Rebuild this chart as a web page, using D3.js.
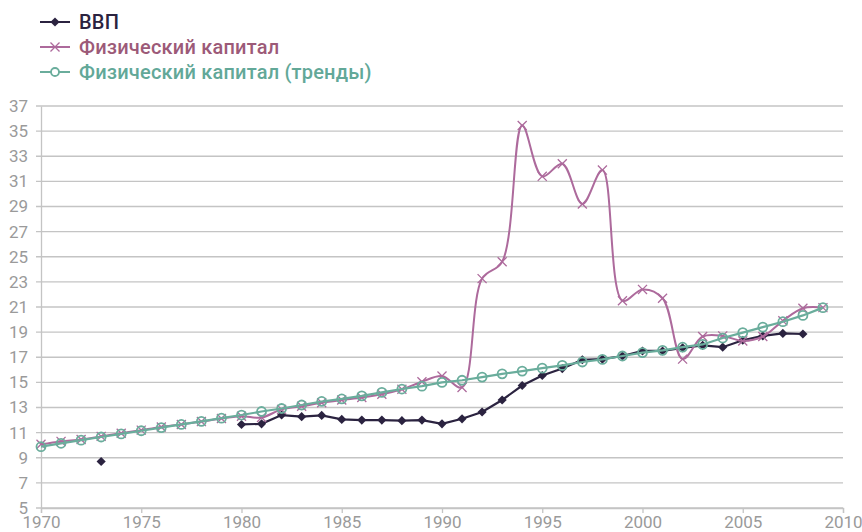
<!DOCTYPE html>
<html>
<head>
<meta charset="utf-8">
<script src="https://cdn.jsdelivr.net/npm/d3@7"></script>
<style>
  body { margin: 0; background: #fff; }
  text { font-family: Roboto, "Noto Sans", sans-serif; }
</style>
</head>
<body>
<div id="chart"></div>
<script>
var width = 862,
    height = 532;

// years and series
var years = d3.range(1970, 2010);

var gdp = [null, null, null, 8.7, null, null, null, null, null, null,
  11.65, 11.7, 12.4, 12.27, 12.37, 12.05, 12.0, 12.0, 11.95, 12.0,
  11.7, 12.1, 12.64, 13.6, 14.75, 15.55, 16.1, 16.8, 16.85, 17.1,
  17.5, 17.5, 17.75, 17.95, 17.8, 18.35, 18.7, 18.9, 18.85, null];

var capital = [10.07, 10.3, 10.45, 10.7, 10.95, 11.2, 11.45, 11.65, 11.88, 12.12,
  12.3, 12.2, 12.85, 13.1, 13.38, 13.6, 13.8, 14.05, 14.45, 15.05,
  15.5, 14.6, 23.26, 24.6, 35.45, 31.4, 32.4, 29.2, 31.9, 21.5,
  22.4, 21.7, 16.85, 18.65, 18.7, 18.3, 18.65, 19.9, 20.9, 20.95];

var trend = [9.88, 10.15, 10.4, 10.65, 10.9, 11.15, 11.4, 11.65, 11.9, 12.15,
  12.4, 12.68, 12.92, 13.2, 13.48, 13.68, 13.92, 14.2, 14.47, 14.7,
  15.0, 15.17, 15.42, 15.68, 15.9, 16.13, 16.35, 16.62, 16.83, 17.1,
  17.37, 17.55, 17.8, 18.02, 18.53, 18.96, 19.4, 19.83, 20.33, 20.95];

var xTicks = [1970, 1975, 1980, 1985, 1990, 1995, 2000, 2005, 2010];
var yTicks = d3.range(5, 38, 2);

var names = ["ВВП", "Физический капитал", "Физический капитал (тренды)"];
var colors = ["#2b2340", "#ad6a9c", "#6aad9c"];
var textColors = ["#2b2340", "#9c5a78", "#62a898"];

var margin = {left: 41, right: 19, top: 106, bottom: 24};

var svg = d3.select("#chart").append("svg")
  .attr("width", width)
  .attr("height", height);

var x = d3.scaleLinear()
  .domain([1970, 2010])
  .range([margin.left, width - margin.right]);

var y = d3.scaleLinear()
  .domain([5, 37])
  .range([height - margin.bottom, margin.top]);

// gridlines
svg.append("g")
  .selectAll("line")
  .data(yTicks)
  .enter()
  .append("line")
    .attr("x1", x(1970) - 5)
    .attr("x2", x(2010))
    .attr("y1", function(d) { return y(d); })
    .attr("y2", function(d) { return y(d); })
    .style("stroke", "#c4c4c4")
    .style("stroke-width", 1.3);

// y axis
var yAxis = svg.append("g")
  .attr("transform", "translate(" + x(1970) + ",0)")
  .call(d3.axisLeft(y).tickValues(yTicks).tickSize(0).tickPadding(13));
yAxis.select(".domain").style("stroke", "#c4c4c4").style("stroke-width", 1.3);
yAxis.selectAll("text")
  .style("font-size", "17px")
  .style("fill", "#9a9a9a");

// x axis
var xAxis = svg.append("g")
  .attr("transform", "translate(0," + y(5) + ")")
  .call(d3.axisBottom(x).tickValues(xTicks).tickFormat(d3.format("d")).tickSize(5).tickPadding(3));
xAxis.select(".domain").style("stroke", "#c4c4c4").style("stroke-width", 1.3);
xAxis.selectAll("line").style("stroke", "#c4c4c4").style("stroke-width", 1.3);
xAxis.selectAll("text")
  .style("font-size", "17px")
  .style("fill", "#9a9a9a");

function points(vals) {
  return years.map(function(yr, i) { return {year: yr, v: vals[i]}; })
    .filter(function(d) { return d.v != null; });
}

var straight = d3.line()
  .defined(function(d) { return d.v != null; })
  .x(function(d) { return x(d.year); })
  .y(function(d) { return y(d.v); });

var smooth = d3.line()
  .x(function(d) { return x(d.year); })
  .y(function(d) { return y(d.v); })
  .curve(d3.curveCatmullRom.alpha(0.5));

var gdpData = years.map(function(yr, i) { return {year: yr, v: gdp[i]}; });

// ВВП
svg.append("path")
  .datum(gdpData)
  .attr("d", straight)
  .style("fill", "none")
  .style("stroke", colors[0])
  .style("stroke-width", 2.2);

// square turned 45 degrees, like the reference markers
var diamond = d3.symbol().type(d3.symbolSquare).size(42);

svg.append("g")
  .selectAll("path")
  .data(points(gdp))
  .enter()
  .append("path")
    .attr("d", diamond)
    .attr("transform", function(d) { return "translate(" + x(d.year) + "," + y(d.v) + ") rotate(45)"; })
    .style("fill", colors[0]);

// Физический капитал
svg.append("path")
  .datum(points(capital))
  .attr("d", smooth)
  .style("fill", "none")
  .style("stroke", colors[1])
  .style("stroke-width", 2);

var cross = d3.symbol().type(d3.symbolTimes).size(55);

svg.append("g")
  .selectAll("path")
  .data(points(capital))
  .enter()
  .append("path")
    .attr("d", cross)
    .attr("transform", function(d) { return "translate(" + x(d.year) + "," + y(d.v) + ")"; })
    .style("fill", "none")
    .style("stroke", colors[1])
    .style("stroke-width", 1.3);

// тренды
svg.append("path")
  .datum(points(trend))
  .attr("d", straight)
  .style("fill", "none")
  .style("stroke", colors[2])
  .style("stroke-width", 2.2);

svg.append("g")
  .selectAll("circle")
  .data(points(trend))
  .enter()
  .append("circle")
    .attr("cx", function(d) { return x(d.year); })
    .attr("cy", function(d) { return y(d.v); })
    .attr("r", 4.5)
    .style("fill", "none")
    .style("stroke", colors[2])
    .style("stroke-width", 1.8);

// legend
var legend = svg.append("g");
var legendY = [22, 47, 72];

names.forEach(function(name, i) {
  var g = legend.append("g").attr("transform", "translate(40," + legendY[i] + ")");
  g.append("line")
    .attr("x1", 0).attr("x2", 30)
    .style("stroke", colors[i])
    .style("stroke-width", 2);
  if (i === 0) {
    g.append("path").attr("d", diamond).attr("transform", "translate(15,0) rotate(45)").style("fill", colors[0]);
  } else if (i === 1) {
    g.append("path").attr("d", cross).attr("transform", "translate(15,0)")
      .style("fill", "none").style("stroke", colors[1]).style("stroke-width", 1.3);
  } else {
    g.append("circle").attr("cx", 15).attr("r", 4).style("fill", "#fff")
      .style("stroke", colors[2]).style("stroke-width", 1.8);
  }
  g.append("text")
    .attr("x", 39)
    .attr("dy", "0.35em")
    .style("font-size", "20px")
    .style("font-weight", 500)
    .style("letter-spacing", "0.2px")
    .style("fill", textColors[i])
    .text(name);
});
</script>
</body>
</html>
